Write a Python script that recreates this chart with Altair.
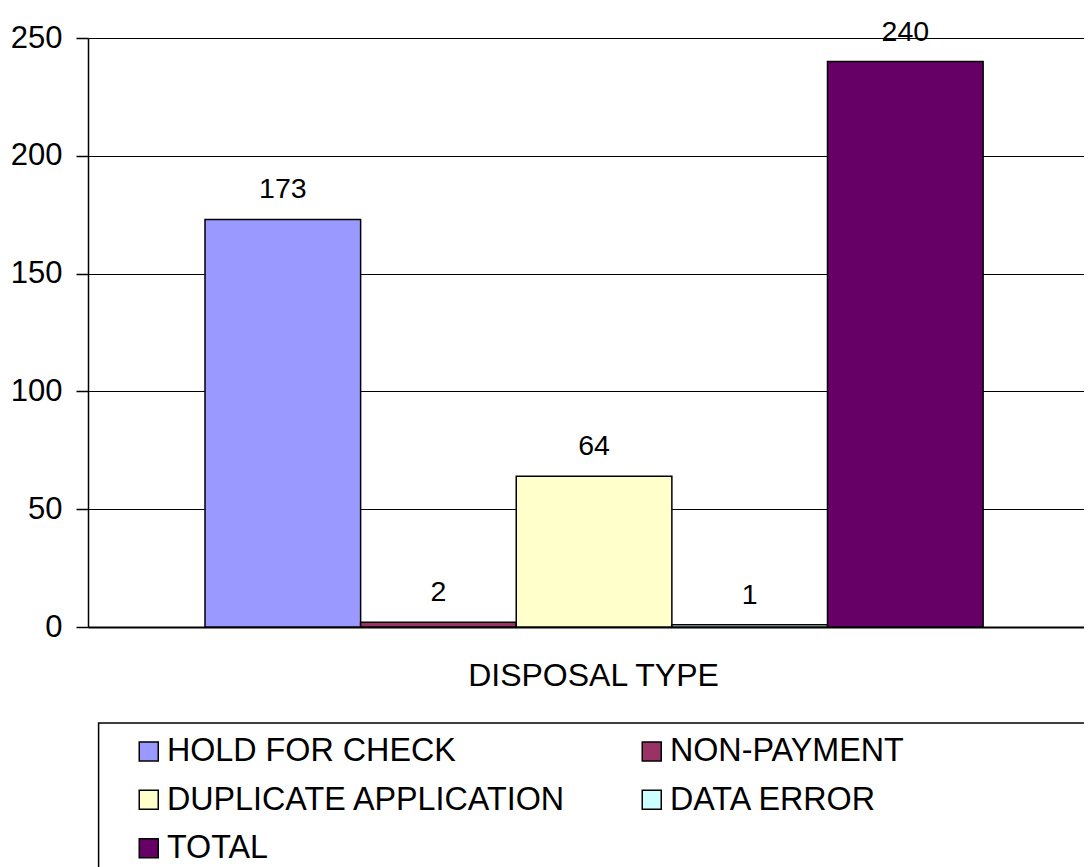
import altair as alt
import pandas as pd

series = ["HOLD FOR CHECK", "NON-PAYMENT", "DUPLICATE APPLICATION", "DATA ERROR", "TOTAL"]
values = [173, 2, 64, 1, 240]
colors = ["#9999FF", "#993366", "#FFFFCC", "#CCFFFF", "#660066"]
y_ticks = [0, 50, 100, 150, 200, 250]
x_title = "DISPOSAL TYPE"

df = pd.DataFrame({"series": series, "value": values})

FONT = "Liberation Sans"

x_enc = alt.X(
    "series:N",
    sort=series,
    scale=alt.Scale(paddingInner=0, paddingOuter=0.70, align=0.537),
    axis=alt.Axis(
        title=x_title,
        labels=False,
        ticks=False,
        domain=True,
        domainColor="black",
        domainWidth=2,
        titleFont=FONT,
        titleFontSize=32,
        titleFontWeight="normal",
        titleColor="black",
        titlePadding=33,
        titleX=505,
        grid=False,
    ),
)

y_enc = alt.Y(
    "value:Q",
    scale=alt.Scale(domain=[0, 250], nice=False),
    axis=alt.Axis(
        title=None,
        values=y_ticks,
        grid=True,
        gridColor="black",
        gridWidth=1,
        gridOpacity=1,
        domainColor="black",
        domainWidth=1.5,
        tickColor="black",
        tickSize=12,
        tickWidth=1.5,
        labelFont=FONT,
        labelFontSize=31,
        labelColor="black",
        labelPadding=14,
    ),
)

bars = alt.Chart(df).mark_bar(stroke="black", strokeWidth=1.5, opacity=1).encode(
    x=x_enc,
    y=y_enc,
    color=alt.Color(
        "series:N",
        sort=series,
        scale=alt.Scale(domain=series, range=colors),
        legend=alt.Legend(
            title=" ",
            titleOrient="right",
            titleFontSize=1,
            titlePadding=200,
            orient="none",
            direction="horizontal",
            legendX=10.6,
            legendY=685,
            columns=2,
            padding=12,
            strokeColor="black",
            labelFont=FONT,
            labelFontSize=32.3,
            labelColor="black",
            labelLimit=1000,
            symbolType="square",
            symbolSize=361,
            symbolStrokeColor="black",
            symbolStrokeWidth=1.5,
            symbolOpacity=1,
            symbolOffset=22,
            labelOffset=2,
            rowPadding=15.5,
            columnPadding=47,
        ),
    ),
)

labels = alt.Chart(df).mark_text(
    font=FONT, fontSize=28.5, color="black", baseline="alphabetic", dy=-21
).encode(
    x=alt.X("series:N", sort=series),
    y=alt.Y("value:Q"),
    text=alt.Text("value:Q"),
)

chart = (
    alt.layer(bars, labels)
    .properties(
        width=996,
        height=589,
        autosize=alt.AutoSizeParams(type="none"),
        padding={"left": 80, "top": 30, "right": 0, "bottom": 240},
        background="white",
    )
    .configure_view(stroke=None)
    .configure_legend(strokeWidth=1.5)
)

chart.save("out.html", embed_options={"renderer": "svg", "actions": False})
